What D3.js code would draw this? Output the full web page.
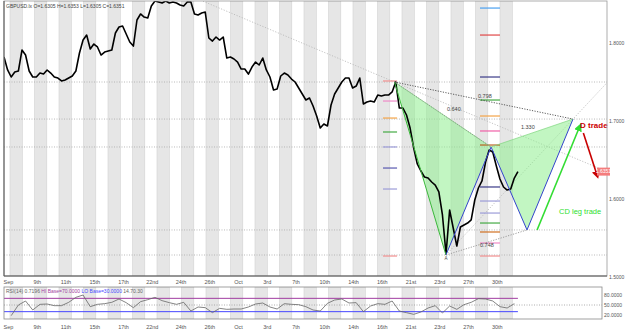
<html>
<head>
<script src="https://d3js.org/d3.v7.min.js"></script>
<style>
  body { margin: 0; background: #fff; }
  svg text { font-family: "Liberation Sans", Arial, sans-serif; }
</style>
</head>
<body>
<svg id="chart" width="625" height="332"></svg>
<script>
// ---- data ----
// closes: one value per quarter-day bar, first bar a little before the "Sep" label (day 0)
const barStart = -0.313, barStep = 0.25;
const closes = [
  1.7820, 1.7654, 1.7564, 1.7628, 1.7641, 1.7910, 1.7846, 1.7641, 1.7564, 1.7564,
  1.7615, 1.7602, 1.7654, 1.7615, 1.7564, 1.7551, 1.7513, 1.7525, 1.7551, 1.7577,
  1.7641, 1.7872, 1.8038, 1.8102, 1.7923, 1.7987, 1.7949, 1.7846, 1.7884, 1.7897,
  1.7910, 1.8128, 1.8205, 1.8218, 1.8115, 1.8013, 1.7961, 1.8295, 1.8372, 1.8333,
  1.8320, 1.8474, 1.8538, 1.8525, 1.8513, 1.8538, 1.8513, 1.8525, 1.8513, 1.8487,
  1.8474, 1.8525, 1.8525, 1.8372, 1.8359, 1.8384, 1.8397, 1.8064, 1.8025, 1.8077,
  1.8038, 1.8077, 1.7807, 1.7820, 1.7795, 1.7756, 1.7666, 1.7666, 1.7602, 1.7692,
  1.7756, 1.7718, 1.7807, 1.7654, 1.7564, 1.7397, 1.7410, 1.7577, 1.7615, 1.7590,
  1.7538, 1.7500, 1.7423, 1.7346, 1.7269, 1.7295, 1.7192, 1.7064, 1.6910, 1.6961,
  1.6936, 1.7205, 1.7346, 1.7423, 1.7500, 1.7551, 1.7551, 1.7423, 1.7448, 1.7551,
  1.7218, 1.7243, 1.7256, 1.7243, 1.7333, 1.7320, 1.7333, 1.7333, 1.7372, 1.7500,
  1.7166, 1.7166, 1.7077, 1.6910, 1.6654, 1.6449, 1.6359, 1.6282, 1.6269, 1.6218,
  1.6179, 1.6090, 1.5795, 1.5295, 1.5859, 1.5628, 1.5397, 1.5641, 1.5667, 1.5692,
  1.5731, 1.5987, 1.6141, 1.6231, 1.6474, 1.6628, 1.6602, 1.6423, 1.6256, 1.6154,
  1.6115, 1.6128, 1.6269, 1.6351
];
// RSI(14): one value every 2nd bar, from bar 2
const rsiValues = [
  18, 50, 62, 35, 52, 53, 48, 48, 58, 73, 80, 45, 52, 54, 58, 68, 57, 42, 60, 66,
  73, 63, 57, 52, 58, 32, 44, 42, 27, 40, 37, 38, 38, 44, 53, 56, 44, 38, 54, 52,
  51, 45, 35, 32, 55, 65, 68, 56, 57, 30, 47, 54, 52, 62, 32, 27, 22, 29, 41, 48,
  26, 47, 37, 51, 58, 69, 68, 62, 45, 41, 54
];
const dayLabels = ["Sep", "9th", "11th", "15th", "17th", "22nd", "24th", "26th", "Oct",
  "3rd", "7th", "10th", "14th", "16th", "21st", "23rd", "27th", "30th"];
const priceTicks = [1.5, 1.6, 1.7, 1.8];
const rsiTicks = [20, 50, 80];
const rsiHi = 70, rsiLo = 30;
const lastPrice = 1.6351;

// harmonic pattern X A B C D
const patternNames = ["X", "A", "B", "C", "D"];
const patternDays = [26.85, 30.43, 33.57, 36.07, 39.27];
const patternPrices = [1.7500, 1.5282, 1.6667, 1.5603, 1.7025];
const ratioText = ["0.640", "0.798", "0.748", "1.330"];
const ratioDays = [30.50, 32.66, 32.80, 35.65];
const ratioPrices = [1.7128, 1.7295, 1.5385, 1.6897];

// fibonacci level ticks
const leftFibDays = [26.05, 27.03];
const leftFibPrices = [1.7513, 1.7256, 1.7038, 1.6859, 1.6667, 1.6397, 1.6128, 1.5269];
const leftFibColors = ["#f29090", "#f08ac8", "#f4a448", "#44aa44", "#9c9cd8", "#5a5ab0", "#9c9cd8", "#f29090"];
const rightFibDays = [32.80, 34.19];
const rightFibPrices = [1.8448, 1.8102, 1.7564, 1.7269, 1.7064, 1.6872, 1.6692, 1.6154,
  1.5974, 1.5820, 1.5692, 1.5577, 1.5436, 1.5269];
const rightFibColors = ["#4aa0f0", "#e04848", "#3a3a88", "#44aa44", "#f4a448", "#f060a8", "#b86020", "#3a3a88",
  "#9c9cd8", "#9c9cd8", "#44aa44", "#d07020", "#f08ac8", "#f29090"];

// trend line and trade arrows
const trendDays = [13.67, 26.85], trendPrices = [1.8525, 1.7500];
const cdArrowDays = [36.77, 39.72], cdArrowPrices = [1.5602, 1.6923];
const dArrowDays = [39.99, 40.94], dArrowPrices = [1.6846, 1.6307];

// ---- layout ----
const svg = d3.select("#chart");
const main = { left: 4, right: 607, top: 1, bottom: 276 };
const sub = { left: 4, right: 602, top: 287, bottom: 319 };

const x = d3.scaleLinear().domain([0, 34]).range([8.5, 497.25]);
const y = d3.scaleLinear().domain([1.5, 1.8]).range([277, 43]);
const yr = d3.scaleLinear().domain([20, 80]).range([315, 295]);
const dayMax = x.invert(main.right);

const bandStarts = d3.range(21).map(k => 0.104 + 1.7043 * k);
const bandWidth = 0.856;

const defs = svg.append("defs");
defs.append("clipPath").attr("id", "clipMain").append("rect")
  .attr("x", main.left).attr("y", main.top)
  .attr("width", main.right - main.left).attr("height", main.bottom - main.top);
defs.append("clipPath").attr("id", "clipSub").append("rect")
  .attr("x", sub.left).attr("y", sub.top)
  .attr("width", sub.right - sub.left).attr("height", sub.bottom - sub.top);
[["arrowGreen", "#33dd33"], ["arrowRed", "#c80000"]].forEach(([id, c]) => {
  defs.append("marker").attr("id", id)
    .attr("viewBox", "0 0 10 10").attr("refX", 5).attr("refY", 5)
    .attr("markerWidth", 5).attr("markerHeight", 5).attr("orient", "auto")
    .append("path").attr("d", "M0,0L10,5L0,10z").style("fill", c);
});

svg.append("rect").attr("width", 625).attr("height", 332).style("fill", "#fff");

// ---- main panel ----
const g = svg.append("g").attr("clip-path", "url(#clipMain)");

g.selectAll("rect.band").data(bandStarts).join("rect")
  .attr("class", "band")
  .attr("x", d => x(d)).attr("width", d => x(d + bandWidth) - x(d))
  .attr("y", main.top).attr("height", main.bottom - main.top)
  .style("fill", "#e6e6e6").style("stroke", "#d2d2d2").style("stroke-width", 0.6);

// horizontal levels at the pattern points
g.selectAll("line.level").data(patternPrices).join("line")
  .attr("class", "level")
  .attr("x1", main.left).attr("x2", main.right)
  .attr("y1", d => y(d)).attr("y2", d => y(d))
  .style("stroke", "#a8a8a8").style("stroke-width", 0.8).style("stroke-dasharray", "1,1.5");

const pts = patternDays.map((d, i) => [x(d), y(patternPrices[i])]);

function extendTo(d0, p0, d1, p1, dEnd) {
  const slope = (p1 - p0) / (d1 - d0);
  return [x(dEnd), y(p0 + slope * (dEnd - d0))];
}

// long trend line through X
const trendLeft = x.invert(203);
g.append("line")
  .attr("x1", x(trendLeft))
  .attr("y1", extendTo(trendDays[0], trendPrices[0], trendDays[1], trendPrices[1], trendLeft)[1])
  .attr("x2", x(dayMax))
  .attr("y2", extendTo(trendDays[0], trendPrices[0], trendDays[1], trendPrices[1], dayMax)[1])
  .style("stroke", "#b4b4b4").style("stroke-width", 0.8).style("stroke-dasharray", "1.2,1.6");

// A-D line running on to the edge
const adEnd = extendTo(patternDays[1], patternPrices[1], patternDays[4], patternPrices[4], dayMax);
g.append("line")
  .attr("x1", pts[1][0]).attr("y1", pts[1][1]).attr("x2", adEnd[0]).attr("y2", adEnd[1])
  .style("stroke", "#b4b4b4").style("stroke-width", 0.8).style("stroke-dasharray", "1.2,1.6");

// pattern fills
g.selectAll("path.wing").data([[0, 1, 2], [2, 3, 4]]).join("path")
  .attr("class", "wing")
  .attr("d", d => "M" + d.map(i => pts[i].join(",")).join("L") + "Z")
  .style("fill", "#90ee90").style("fill-opacity", 0.55).style("stroke", "none");

// fibonacci ticks
g.selectAll("line.fibL").data(leftFibPrices).join("line")
  .attr("class", "fibL")
  .attr("x1", x(leftFibDays[0])).attr("x2", x(leftFibDays[1]))
  .attr("y1", d => y(d)).attr("y2", d => y(d))
  .style("stroke", (d, i) => leftFibColors[i]).style("stroke-width", 1.2);
g.selectAll("line.fibR").data(rightFibPrices).join("line")
  .attr("class", "fibR")
  .attr("x1", x(rightFibDays[0])).attr("x2", x(rightFibDays[1]))
  .attr("y1", d => y(d)).attr("y2", d => y(d))
  .style("stroke", (d, i) => rightFibColors[i]).style("stroke-width", 1.2);

// price
const priceLine = d3.line()
  .x((d, i) => x(barStart + barStep * i))
  .y(d => y(d));
g.append("path").datum(closes)
  .attr("d", priceLine)
  .style("fill", "none").style("stroke", "#000").style("stroke-width", 1.6)
  .style("stroke-linejoin", "round");

// pattern legs
const legs = [[0, 1, "#3cb83c", 1], [1, 2, "#3344cc", 1], [2, 3, "#3344cc", 1], [3, 4, "#3344cc", 1],
  [0, 2, "#7ed67e", 0.7], [2, 4, "#7ed67e", 0.7]];
g.selectAll("line.leg").data(legs).join("line")
  .attr("class", "leg")
  .attr("x1", d => pts[d[0]][0]).attr("y1", d => pts[d[0]][1])
  .attr("x2", d => pts[d[1]][0]).attr("y2", d => pts[d[1]][1])
  .style("stroke", d => d[2]).style("stroke-width", d => d[3]);

// ratio lines
const ratioLegs = [[0, 2, "#888"], [0, 4, "#333"], [1, 3, "#888"]];
g.selectAll("line.ratio").data(ratioLegs).join("line")
  .attr("class", "ratio")
  .attr("x1", d => pts[d[0]][0]).attr("y1", d => pts[d[0]][1])
  .attr("x2", d => pts[d[1]][0]).attr("y2", d => pts[d[1]][1])
  .style("stroke", d => d[2]).style("stroke-width", 0.8).style("stroke-dasharray", "1.2,1.4");

g.selectAll("text.ratio").data(ratioText).join("text")
  .attr("class", "ratio")
  .attr("x", (d, i) => x(ratioDays[i])).attr("y", (d, i) => y(ratioPrices[i]))
  .style("font-size", "5.5px").style("fill", "#444")
  .text(d => d);

g.append("text")
  .attr("x", pts[1][0]).attr("y", pts[1][1] + 5)
  .attr("text-anchor", "middle")
  .style("font-size", "4.5px").style("fill", "#444")
  .text(patternNames[1]);

// trade arrows
g.append("line")
  .attr("x1", x(cdArrowDays[0])).attr("y1", y(cdArrowPrices[0]))
  .attr("x2", x(cdArrowDays[1])).attr("y2", y(cdArrowPrices[1]))
  .attr("marker-end", "url(#arrowGreen)")
  .style("stroke", "#33dd33").style("stroke-width", 1.6);
g.append("line")
  .attr("x1", x(dArrowDays[0])).attr("y1", y(dArrowPrices[0]))
  .attr("x2", x(dArrowDays[1])).attr("y2", y(dArrowPrices[1]))
  .attr("marker-end", "url(#arrowRed)")
  .style("stroke", "#c80000").style("stroke-width", 1.6);

svg.append("text")
  .attr("x", x(39.76)).attr("y", y(1.6910))
  .style("font-size", "8px").style("font-weight", "bold").style("fill", "#cc0000")
  .text("D trade");
svg.append("text")
  .attr("x", x(38.30)).attr("y", y(1.5808))
  .style("font-size", "7.5px").style("fill", "#2ee02e")
  .text("CD leg trade");

svg.append("text")
  .attr("x", 6).attr("y", 7.5)
  .style("font-size", "5px").style("fill", "#444")
  .text("GBPUSD.lx O=1.6305 H=1.6353 L=1.6305 C=1.6351");

// frame
svg.append("rect")
  .attr("x", main.left).attr("y", main.top)
  .attr("width", main.right - main.left).attr("height", main.bottom - main.top)
  .style("fill", "none").style("stroke", "#9a9a9a").style("stroke-width", 0.8);
svg.append("path")
  .attr("d", `M${main.left},${main.top}V${main.bottom}H${main.right}`)
  .style("fill", "none").style("stroke", "#555").style("stroke-width", 1);

// right price axis
svg.selectAll("text.ptick").data(priceTicks).join("text")
  .attr("class", "ptick")
  .attr("x", main.right + 2).attr("y", d => y(d)).attr("dy", "0.35em")
  .style("font-size", "5px").style("fill", "#555")
  .text(d => d.toFixed(4));
svg.append("rect")
  .attr("x", 597).attr("y", y(lastPrice) - 4).attr("width", 13).attr("height", 8)
  .style("fill", "#f47c7c");
svg.append("text")
  .attr("x", 603.5).attr("y", y(lastPrice)).attr("dy", "0.35em")
  .attr("text-anchor", "middle")
  .style("font-size", "5px").style("fill", "#fff")
  .text(lastPrice.toFixed(4));

// date labels
function dateRow(yPos) {
  svg.append("g").selectAll("text").data(dayLabels).join("text")
    .attr("x", (d, i) => x(2 * i)).attr("y", yPos)
    .attr("text-anchor", "middle")
    .style("font-size", "5.5px").style("fill", "#555")
    .text(d => d);
}
dateRow(284);

// ---- RSI panel ----
const r = svg.append("g").attr("clip-path", "url(#clipSub)");
r.selectAll("rect.band").data(bandStarts).join("rect")
  .attr("class", "band")
  .attr("x", d => x(d)).attr("width", d => x(d + bandWidth) - x(d))
  .attr("y", sub.top).attr("height", sub.bottom - sub.top)
  .style("fill", "#e6e6e6").style("stroke", "#d2d2d2").style("stroke-width", 0.6);

const lastDay = barStart + barStep * (closes.length - 1);
r.append("line")
  .attr("x1", sub.left).attr("x2", sub.right)
  .attr("y1", yr(50)).attr("y2", yr(50))
  .style("stroke", "#999").style("stroke-width", 0.8).style("stroke-dasharray", "1,1.5");
r.append("line")
  .attr("x1", sub.left).attr("x2", x(lastDay))
  .attr("y1", yr(rsiHi)).attr("y2", yr(rsiHi))
  .style("stroke", "#a03ca0").style("stroke-width", 1);
r.append("line")
  .attr("x1", sub.left).attr("x2", x(lastDay))
  .attr("y1", yr(rsiLo)).attr("y2", yr(rsiLo))
  .style("stroke", "#4646ff").style("stroke-width", 1);

const rsiLine = d3.line()
  .x((d, i) => x(barStart + barStep * 2 * (i + 1)))
  .y(d => yr(d));
r.append("path").datum(rsiValues)
  .attr("d", rsiLine)
  .style("fill", "none").style("stroke", "#666").style("stroke-width", 0.8);

svg.append("rect")
  .attr("x", sub.left).attr("y", sub.top)
  .attr("width", sub.right - sub.left).attr("height", sub.bottom - sub.top)
  .style("fill", "none").style("stroke", "#8a8a8a").style("stroke-width", 0.8);

const rsiTitle = svg.append("text").attr("x", 6).attr("y", 292.5).style("font-size", "5px");
rsiTitle.append("tspan").style("fill", "#666").text("RSI(14) 0.7196 ");
rsiTitle.append("tspan").style("fill", "#a03ca0").text("HI Base=70.0000 ");
rsiTitle.append("tspan").style("fill", "#4646ff").text("LO Base=30.0000 ");
rsiTitle.append("tspan").style("fill", "#666").text("14.70.30");

svg.selectAll("text.rtick").data(rsiTicks).join("text")
  .attr("class", "rtick")
  .attr("x", sub.right + 2).attr("y", d => yr(d)).attr("dy", "0.35em")
  .style("font-size", "5px").style("fill", "#555")
  .text(d => d.toFixed(4));

dateRow(328.5);
</script>
</body>
</html>
